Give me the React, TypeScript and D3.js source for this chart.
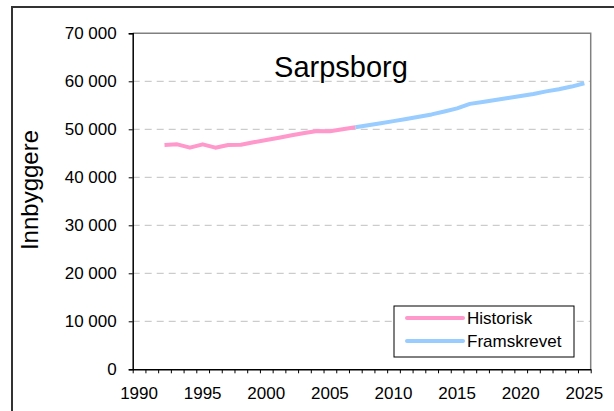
import React, { useRef, useEffect } from 'react';
import * as d3 from 'd3';

const histYears = [1992, 1993, 1994, 1995, 1996, 1997, 1998, 1999, 2000, 2001, 2002, 2003, 2004, 2005, 2006, 2007];
const histValues = [46730, 46870, 46170, 46870, 46170, 46730, 46800, 47290, 47770, 48250, 48750, 49230, 49650, 49580, 50000, 50420];

const projYears = [2007, 2008, 2009, 2010, 2011, 2012, 2013, 2014, 2015, 2016, 2017, 2018, 2019, 2020, 2021, 2022, 2023, 2024, 2025];
const projValues = [50420, 50850, 51250, 51700, 52150, 52600, 53100, 53700, 54350, 55300, 55700, 56100, 56500, 56950, 57350, 57900, 58350, 58900, 59600];

const yTicks = [0, 10000, 20000, 30000, 40000, 50000, 60000, 70000];
const xLabels = [1990, 1995, 2000, 2005, 2010, 2015, 2020, 2025];
const firstYear = 1990;
const lastYear = 2025;

const seriesNames = ['Historisk', 'Framskrevet'];
const colors = ['#ff99cc', '#99ccff'];

function App() {
  const ref = useRef<SVGSVGElement>(null);

  useEffect(() => {
    drawChart();
  }, []);

  function drawChart() {
    const svg = d3.select(ref.current);
    svg.selectAll('*').remove();

    const left = 132.7, right = 590.7, top = 33.3, bottom = 369.3;
    const font = 'Arial, "Liberation Sans", sans-serif';

    // outer frame
    svg.append('path')
      .attr('d', 'M12,411V7H614')
      .attr('fill', 'none')
      .attr('stroke', '#333')
      .attr('stroke-width', 2);

    const x = d3.scaleLinear()
      .domain([firstYear - 0.5, lastYear + 0.5])
      .range([left, right]);

    const y = d3.scaleLinear()
      .domain([0, 70000])
      .range([bottom, top]);

    // gridlines
    svg.append('g')
      .selectAll('line')
      .data(yTicks.filter(d => d > 0 && d < 70000))
      .join('line')
      .attr('x1', left)
      .attr('x2', right)
      .attr('y1', d => y(d))
      .attr('y2', d => y(d))
      .attr('stroke', '#c0c0c0')
      .attr('stroke-width', 1)
      .attr('stroke-dasharray', '7,5');

    // plot area border (top and right)
    svg.append('path')
      .attr('d', `M${left},${top}H${right}V${bottom}`)
      .attr('fill', 'none')
      .attr('stroke', '#808080')
      .attr('stroke-width', 1.5);

    // y axis
    const yAxis = d3.axisLeft(y)
      .tickValues(yTicks)
      .tickSize(4)
      .tickPadding(12)
      .tickFormat(d => d3.format(',')(d as number).replace(/,/g, '\u00a0'));

    const gy = svg.append('g')
      .attr('transform', `translate(${left},0)`)
      .call(yAxis);
    gy.select('.domain').attr('stroke', '#000').attr('stroke-width', 1.5);
    gy.selectAll('.tick line').attr('stroke', '#000');
    gy.selectAll('.tick text')
      .attr('font-family', font)
      .attr('font-size', 17)
      .attr('fill', '#000');

    // x axis: ticks between categories
    const boundaries = d3.range(firstYear - 0.5, lastYear + 1.5, 1);
    const xAxis = d3.axisBottom(x)
      .tickValues(boundaries)
      .tickSize(4)
      .tickSizeOuter(0)
      .tickFormat(() => '');

    const gx = svg.append('g')
      .attr('transform', `translate(0,${bottom})`)
      .call(xAxis);
    gx.select('.domain').attr('stroke', '#000').attr('stroke-width', 1.5);
    gx.selectAll('.tick line').attr('stroke', '#000');

    svg.append('g')
      .selectAll('text')
      .data(xLabels)
      .join('text')
      .attr('x', d => x(d))
      .attr('y', 399)
      .attr('text-anchor', 'middle')
      .attr('font-family', font)
      .attr('font-size', 17)
      .attr('fill', '#000')
      .text(d => d);

    // axis title
    svg.append('text')
      .attr('transform', 'translate(38,190) rotate(-90)')
      .attr('text-anchor', 'middle')
      .attr('font-family', font)
      .attr('font-size', 24)
      .attr('fill', '#000')
      .text('Innbyggere');

    // chart title
    svg.append('text')
      .attr('x', 341)
      .attr('y', 76.7)
      .attr('text-anchor', 'middle')
      .attr('font-family', font)
      .attr('font-size', 29)
      .attr('fill', '#000')
      .text('Sarpsborg');

    const line = d3.line<[number, number]>()
      .x(d => x(d[0]))
      .y(d => y(d[1]));

    const series: [number, number][][] = [
      histYears.map((yr, i) => [yr, histValues[i]]),
      projYears.map((yr, i) => [yr, projValues[i]]),
    ];

    series.forEach((s, i) => {
      svg.append('path')
        .datum(s)
        .attr('fill', 'none')
        .attr('stroke', colors[i])
        .attr('stroke-width', 4)
        .attr('stroke-linejoin', 'round')
        .attr('d', line);
    });

    // legend
    const lg = svg.append('g');
    lg.append('rect')
      .attr('x', 394)
      .attr('y', 306)
      .attr('width', 180)
      .attr('height', 51)
      .attr('fill', '#fff')
      .attr('stroke', '#000')
      .attr('stroke-width', 1);

    seriesNames.forEach((name, i) => {
      const ly = 318 + i * 23;
      lg.append('line')
        .attr('x1', 407)
        .attr('x2', 463)
        .attr('y1', ly)
        .attr('y2', ly)
        .attr('stroke', colors[i])
        .attr('stroke-width', 4)
        .attr('stroke-linecap', 'round');
      lg.append('text')
        .attr('x', 467)
        .attr('y', ly + 6)
        .attr('font-family', font)
        .attr('font-size', 17)
        .attr('fill', '#000')
        .text(name);
    });
  }

  return (
    <svg
      ref={ref}
      width={614}
      height={411}
      style={{ position: 'absolute', left: 0, top: 0, background: '#fff' }}
    />
  );
}

export default App;
